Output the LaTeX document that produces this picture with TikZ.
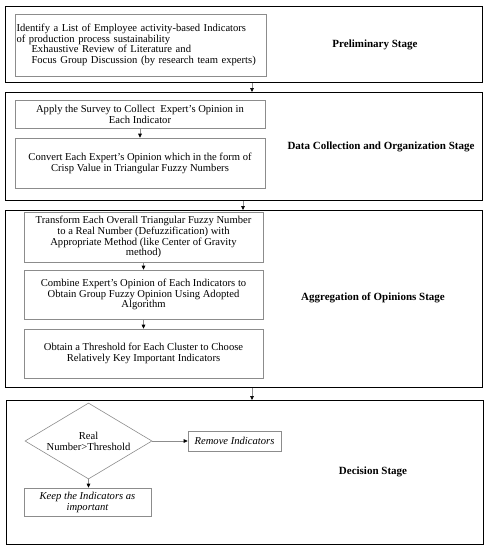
\documentclass[tikz,border=0pt]{standalone}
\usepackage{fontspec}
\setmainfont{Liberation Serif}
\usetikzlibrary{arrows.meta,shapes.geometric}
\begin{document}
\begin{tikzpicture}[x=1pt,y=-1pt,
  stagebox/.style={draw=black,line width=1.1pt,minimum width=477pt,inner sep=0pt,anchor=north west},
  inbox/.style={draw=black!45,line width=0.6pt,inner sep=1.5pt,align=center,font=\fontsize{10.6}{10.9}\selectfont},
  dia/.style={draw=black!45,line width=0.6pt,shape=diamond,minimum width=127pt,minimum height=76pt,inner sep=0pt},
  lbl/.style={font=\fontsize{11}{12}\selectfont\bfseries},
  txt/.style={font=\fontsize{10.6}{11}\selectfont,align=center,inner sep=0pt},
  conn/.style={draw=black!45,line width=0.6pt,-{Triangle[length=4pt,width=3.6pt,color=black]}}]
\useasboundingbox (0,0) rectangle (489,550);
% stage boxes
\node[stagebox,minimum height=76pt] (s1) at (5,6) {};
\node[stagebox,minimum height=108pt] (s2) at (5,92) {};
\node[stagebox,minimum height=177pt] (s3) at (5,210) {};
\node[stagebox,minimum height=144pt] (s4) at (6,400) {};
% stage labels
\node[lbl] (l1) at (375,45) {Preliminary Stage};
\node[lbl] (l2) at (381,147) {Data Collection and Organization Stage};
\node[lbl] (l3) at (373,298) {Aggregation of Opinions Stage};
\node[lbl] (l4) at (373,472) {Decision Stage};
% inner boxes
\node[inbox,minimum width=251pt,minimum height=62pt,text width=248pt,align=left,font=\fontsize{10.6}{10.7}\selectfont] (b1) at (140.5,45)
 {Identify a List of Employee activity-based Indicators\\
  of production process sustainability\\
  \hspace*{15pt}Exhaustive Review of Literature and\\
  \hspace*{15pt}Focus Group Discussion (by research team experts)};
\node[inbox,minimum width=250pt,minimum height=28pt] (b2a) at (140,114)
 {Apply the Survey to Collect\ \ Expert’s Opinion in\\Each Indicator};
\node[inbox,minimum width=250pt,minimum height=50pt] (b2b) at (140,163)
 {Convert Each Expert’s Opinion which in the form of\\Crisp Value in Triangular Fuzzy Numbers};
\node[inbox,minimum width=239pt,minimum height=50pt] (b3a) at (143.5,237)
 {Transform Each Overall Triangular Fuzzy Number\\to a Real Number (Defuzzification) with\\Appropriate Method (like Center of Gravity\\method)};
\node[inbox,minimum width=239pt,minimum height=49pt] (b3b) at (143.5,294.5)
 {Combine Expert’s Opinion of Each Indicators to\\Obtain Group Fuzzy Opinion Using Adopted\\Algorithm};
\node[inbox,minimum width=239pt,minimum height=49pt] (b3c) at (143.5,353.5)
 {Obtain a Threshold for Each Cluster to Choose\\Relatively Key Important Indicators};
% decision
\node[dia] (d) at (88.5,441) {};
\node[txt] (dt) at (d.center) {Real\\Number>Threshold};
\node[inbox,minimum width=93pt,minimum height=20pt,font=\fontsize{10.6}{10.9}\selectfont\itshape] (rem) at (234.5,441) {Remove Indicators};
\node[inbox,minimum width=127pt,minimum height=28pt,font=\fontsize{10.6}{10.9}\selectfont\itshape] (keep) at (87.5,502) {Keep the Indicators as\\important};
% connector x positions
\coordinate (xa) at (252,0);
\coordinate (xb) at (243,0);
\draw[conn] (s1.south -| xa) -- (s2.north -| xa);
\draw[conn] (b2a) -- (b2b);
\draw[conn] (s2.south -| xb) -- (s3.north -| xb);
\draw[conn] (b3a) -- (b3b);
\draw[conn] (b3b) -- (b3c);
\draw[conn] (s3.south -| xa) -- (s4.north -| xa);
\draw[conn] (d.east) -- (rem.west);
\draw[conn] (d.south) -- (keep.north -| d.south);
\end{tikzpicture}
\end{document}
